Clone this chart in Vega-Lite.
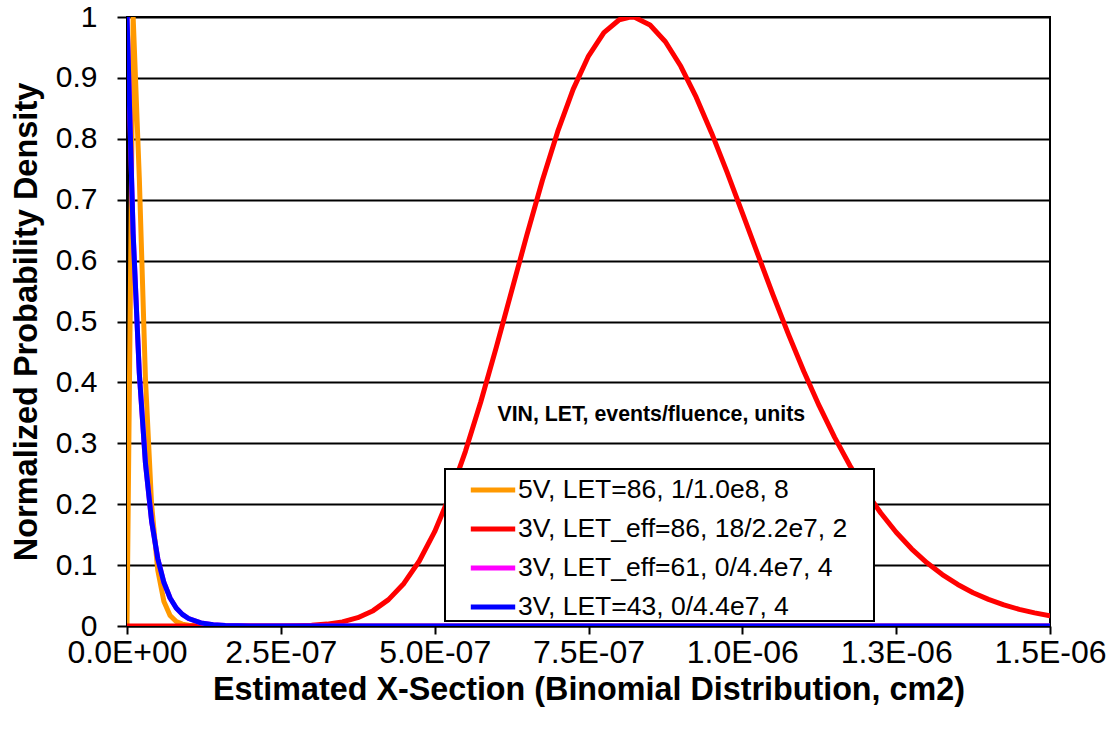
{
  "$schema": "https://vega.github.io/schema/vega-lite/v6.json",
  "width": 923,
  "height": 609,
  "autosize": {"type": "none"},
  "padding": {"left": 127, "top": 17, "right": 63, "bottom": 105},
  "background": "white",
  "config": {
    "view": {"stroke": "black", "strokeWidth": 2},
    "font": "Liberation Sans",
    "line": {"strokeJoin": "round", "strokeCap": "round"},
    "axis": {"domainColor": "black", "tickColor": "black", "labelColor": "black", "titleColor": "black", "labelFont": "Liberation Sans", "titleFont": "Liberation Sans", "titleFontWeight": "bold", "labelOverlap": false, "labelFlush": false},
    "legend": {
      "orient": "none", "legendX": 318, "legendY": 452, "strokeColor": "black", "strokeWidth": 2, "fillColor": "white",
      "padding": 0, "symbolType": "M-1.2,0L1.2,0", "symbolStrokeWidth": 5, "symbolSize": 1369, "symbolOffset": 27,
      "labelFont": "Liberation Sans", "labelFontSize": 26.5, "labelColor": "black", "labelOffset": 4, "rowPadding": 4, "labelLimit": 800,
      "titleOrient": "right", "titlePadding": 27, "titleFontSize": 4, "titleColor": "white"
    }
  },
  "layer": [
    {
      "data": {"values": [
        {"x": 0, "y": 0}, {"x": 1e-8, "y": 1}, {"x": 2e-8, "y": 0.7358}, {"x": 3e-8, "y": 0.406}, {"x": 4e-8, "y": 0.1991},
        {"x": 5e-8, "y": 0.0916}, {"x": 6e-8, "y": 0.0404}, {"x": 7e-8, "y": 0.0174}, {"x": 8e-8, "y": 0.0073}, {"x": 9e-8, "y": 0.003},
        {"x": 1e-7, "y": 0.0012}, {"x": 1.2e-7, "y": 0.0002}, {"x": 1.5e-7, "y": 0}, {"x": 5e-7, "y": 0}, {"x": 1e-6, "y": 0}, {"x": 1.5e-6, "y": 0}
      ]},
      "mark": {"type": "line", "strokeWidth": 5, "clip": true},
      "encoding": {
        "x": {"field": "x", "type": "quantitative",
          "scale": {"domain": [0, 1.5e-6], "nice": false, "zero": false},
          "axis": {"values": [0, 2.5e-7, 5e-7, 7.5e-7, 1e-6, 1.25e-6, 1.5e-6], "grid": false,
            "labelExpr": "['0.0E+00','2.5E-07','5.0E-07','7.5E-07','1.0E-06','1.3E-06','1.5E-06'][round(datum.value/2.5e-7)]",
            "labelFontSize": 32, "labelPadding": 3, "tickSize": 8, "tickWidth": 2, "domainWidth": 2,
            "title": "Estimated X-Section (Binomial Distribution, cm2)", "titleFontSize": 32.3, "titlePadding": 5}},
        "y": {"field": "y", "type": "quantitative",
          "scale": {"domain": [0, 1], "nice": false},
          "axis": {"values": [0, 0.1, 0.2, 0.3, 0.4, 0.5, 0.6, 0.7, 0.8, 0.9, 1], "format": ".1~f", "grid": true, "gridColor": "black", "gridWidth": 2,
            "labelFontSize": 30, "labelPadding": 20, "tickSize": 10, "tickWidth": 2, "domainWidth": 3,
            "title": "Normalized Probability Density", "titleFontSize": 32.5, "titlePadding": 12}},
        "color": {"datum": "5V, LET=86, 1/1.0e8, 8", "type": "nominal",
          "scale": {"domain": ["5V, LET=86, 1/1.0e8, 8", "3V, LET_eff=86, 18/2.2e7, 2", "3V, LET_eff=61, 0/4.4e7, 4", "3V, LET=43, 0/4.4e7, 4"],
                    "range": ["#FF9900", "#FF0000", "#FF00FF", "#0000FF"]},
          "legend": {"title": "\u00a0"}}}
    },
    {
      "data": {"values": [
        {"x": 0, "y": 0}, {"x": 1e-7, "y": 0}, {"x": 2e-7, "y": 0}, {"x": 2.5e-7, "y": 0.0001}, {"x": 2.75e-7, "y": 0.0005},
        {"x": 3e-7, "y": 0.0013}, {"x": 3.25e-7, "y": 0.0031}, {"x": 3.5e-7, "y": 0.0068}, {"x": 3.75e-7, "y": 0.0137},
        {"x": 4e-7, "y": 0.0252}, {"x": 4.25e-7, "y": 0.0433}, {"x": 4.5e-7, "y": 0.0699}, {"x": 4.75e-7, "y": 0.1067},
        {"x": 5e-7, "y": 0.1549}, {"x": 5.25e-7, "y": 0.2152}, {"x": 5.5e-7, "y": 0.2868}, {"x": 5.75e-7, "y": 0.3683},
        {"x": 6e-7, "y": 0.4571}, {"x": 6.25e-7, "y": 0.5499}, {"x": 6.5e-7, "y": 0.6427}, {"x": 6.75e-7, "y": 0.7315},
        {"x": 7e-7, "y": 0.8121}, {"x": 7.25e-7, "y": 0.8812}, {"x": 7.5e-7, "y": 0.9359}, {"x": 7.75e-7, "y": 0.9743},
        {"x": 8e-7, "y": 0.9955}, {"x": 8.18e-7, "y": 1.0}, {"x": 8.25e-7, "y": 0.9994}, {"x": 8.5e-7, "y": 0.9868},
        {"x": 8.75e-7, "y": 0.9594}, {"x": 9e-7, "y": 0.9191}, {"x": 9.25e-7, "y": 0.8683}, {"x": 9.5e-7, "y": 0.8096},
        {"x": 9.75e-7, "y": 0.7456}, {"x": 1e-6, "y": 0.6785}, {"x": 1.025e-6, "y": 0.6105}, {"x": 1.05e-6, "y": 0.5435},
        {"x": 1.075e-6, "y": 0.479}, {"x": 1.1e-6, "y": 0.418}, {"x": 1.125e-6, "y": 0.3614}, {"x": 1.15e-6, "y": 0.3097},
        {"x": 1.175e-6, "y": 0.2631}, {"x": 1.2e-6, "y": 0.2218}, {"x": 1.225e-6, "y": 0.1855}, {"x": 1.25e-6, "y": 0.1539},
        {"x": 1.275e-6, "y": 0.1268}, {"x": 1.3e-6, "y": 0.1038}, {"x": 1.325e-6, "y": 0.0844}, {"x": 1.35e-6, "y": 0.0682},
        {"x": 1.375e-6, "y": 0.0547}, {"x": 1.4e-6, "y": 0.0437}, {"x": 1.425e-6, "y": 0.0347}, {"x": 1.45e-6, "y": 0.0273},
        {"x": 1.475e-6, "y": 0.0215}, {"x": 1.5e-6, "y": 0.0168}
      ]},
      "mark": {"type": "line", "strokeWidth": 5, "clip": true},
      "encoding": {
        "x": {"field": "x", "type": "quantitative"},
        "y": {"field": "y", "type": "quantitative"},
        "color": {"datum": "3V, LET_eff=86, 18/2.2e7, 2", "type": "nominal"}}
    },
    {
      "data": {"values": [
        {"x": 0, "y": 1}, {"x": 1e-8, "y": 0.644}, {"x": 2e-8, "y": 0.4148}, {"x": 3e-8, "y": 0.2671}, {"x": 4e-8, "y": 0.172},
        {"x": 5e-8, "y": 0.1108}, {"x": 6e-8, "y": 0.0714}, {"x": 7e-8, "y": 0.046}, {"x": 8e-8, "y": 0.0296}, {"x": 9e-8, "y": 0.0191},
        {"x": 1e-7, "y": 0.0123}, {"x": 1.2e-7, "y": 0.0051}, {"x": 1.4e-7, "y": 0.0021}, {"x": 1.6e-7, "y": 0.0009}, {"x": 2e-7, "y": 0.0002},
        {"x": 2.5e-7, "y": 0}, {"x": 5e-7, "y": 0}, {"x": 1e-6, "y": 0}, {"x": 1.5e-6, "y": 0}
      ]},
      "mark": {"type": "line", "strokeWidth": 5, "clip": true},
      "encoding": {
        "x": {"field": "x", "type": "quantitative"},
        "y": {"field": "y", "type": "quantitative"},
        "color": {"datum": "3V, LET_eff=61, 0/4.4e7, 4", "type": "nominal"}}
    },
    {
      "data": {"values": [
        {"x": 0, "y": 1}, {"x": 1e-8, "y": 0.644}, {"x": 2e-8, "y": 0.4148}, {"x": 3e-8, "y": 0.2671}, {"x": 4e-8, "y": 0.172},
        {"x": 5e-8, "y": 0.1108}, {"x": 6e-8, "y": 0.0714}, {"x": 7e-8, "y": 0.046}, {"x": 8e-8, "y": 0.0296}, {"x": 9e-8, "y": 0.0191},
        {"x": 1e-7, "y": 0.0123}, {"x": 1.2e-7, "y": 0.0051}, {"x": 1.4e-7, "y": 0.0021}, {"x": 1.6e-7, "y": 0.0009}, {"x": 2e-7, "y": 0.0002},
        {"x": 2.5e-7, "y": 0}, {"x": 5e-7, "y": 0}, {"x": 1e-6, "y": 0}, {"x": 1.5e-6, "y": 0}
      ]},
      "mark": {"type": "line", "strokeWidth": 5, "clip": true},
      "encoding": {
        "x": {"field": "x", "type": "quantitative"},
        "y": {"field": "y", "type": "quantitative"},
        "color": {"datum": "3V, LET=43, 0/4.4e7, 4", "type": "nominal"}}
    },
    {
      "data": {"values": [{"label": "VIN, LET, events/fluence, units", "px": 8.52e-7, "py": 0.346}]},
      "mark": {"type": "text", "font": "Liberation Sans", "fontSize": 21.3, "fontWeight": "bold", "align": "center", "baseline": "middle", "fill": "black"},
      "encoding": {
        "text": {"field": "label", "type": "nominal"},
        "x": {"field": "px", "type": "quantitative"},
        "y": {"field": "py", "type": "quantitative"}}
    }
  ]
}
